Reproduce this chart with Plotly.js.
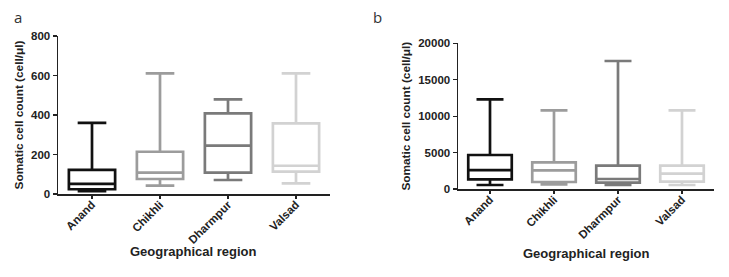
<!DOCTYPE html>
<html><head><meta charset="utf-8">
<script src="https://cdn.plot.ly/plotly-3.0.1.min.js"></script>
<style>html,body{margin:0;padding:0;background:#fff}#chart{width:729px;height:277px}</style>
</head><body><div id="chart"></div>
<script>
const regions = ["Anand", "Chikhli", "Dharmpur", "Valsad"];
const colors = ["#111111", "#9c9c9c", "#7a7a7a", "#d2d2d2"];
// Panel a
const aMin = [15, 42, 71, 54];
const aQ1 = [24, 76, 108, 113];
const aMed = [51, 108, 245, 143];
const aQ3 = [122, 214, 408, 358];
const aMax = [360, 611, 479, 611];
// Panel b
const bMin = [550, 640, 550, 550];
const bQ1 = [1330, 960, 870, 1000];
const bMed = [2600, 2560, 1370, 2100];
const bQ3 = [4670, 3660, 3200, 3200];
const bMax = [12300, 10800, 17570, 10800];
const aTicks = [0, 200, 400, 600, 800];
const bTicks = [0, 5000, 10000, 15000, 20000];

const traces = [];
regions.forEach((r, i) => {
  traces.push({type: 'box', x: [r], q1: [aQ1[i]], median: [aMed[i]], q3: [aQ3[i]],
    lowerfence: [aMin[i]], upperfence: [aMax[i]], xaxis: 'x', yaxis: 'y',
    line: {color: colors[i], width: 2.7}, fillcolor: 'rgba(255,255,255,0)',
    width: 0.68, whiskerwidth: 0.62, showlegend: false, hoverinfo: 'none'});
  traces.push({type: 'box', x: [r], q1: [bQ1[i]], median: [bMed[i]], q3: [bQ3[i]],
    lowerfence: [bMin[i]], upperfence: [bMax[i]], xaxis: 'x2', yaxis: 'y2',
    line: {color: colors[i], width: 2.7}, fillcolor: 'rgba(255,255,255,0)',
    width: 0.68, whiskerwidth: 0.62, showlegend: false, hoverinfo: 'none'});
});

const FAM = 'Liberation Sans, Arial, sans-serif';
const xCommon = {type: 'category', categoryorder: 'array', categoryarray: regions,
  range: [-0.5, 3.5], showline: true, linecolor: '#222', linewidth: 1.5,
  ticks: 'outside', ticklen: 3, tickcolor: '#222', tickwidth: 1.2, tickangle: -45,
  ticklabelstandoff: -5,
  showgrid: false, zeroline: false, tickfont: {family: FAM, size: 11.5, color: '#222'},
  tickvals: regions, ticktext: regions.map(r => '<b>' + r + '</b>')};
const yCommon = {showline: true, linecolor: '#222', linewidth: 1.5, ticks: 'outside',
  ticklen: 4, tickcolor: '#222', tickwidth: 1.2, showgrid: false, zeroline: false,
  tickfont: {family: FAM, size: 11.5, color: '#222'},
  title: {text: '<b>Somatic cell count (cell/μl)</b>', font: {family: FAM, size: 11.8, color: '#222'}, standoff: 5}};

const layout = {
  width: 729, height: 277, margin: {l: 0, r: 0, t: 0, b: 0},
  paper_bgcolor: '#fff', plot_bgcolor: '#fff', boxmode: 'overlay',
  font: {family: FAM},
  xaxis: Object.assign({}, xCommon, {domain: [58/729, 330/729], anchor: 'y'}),
  yaxis: Object.assign({}, yCommon, {domain: [1 - 194/277, 1 - 36/277], anchor: 'x',
    range: [0, 800], tickvals: aTicks, ticktext: aTicks.map(v => '<b>' + v + '</b>')}),
  xaxis2: Object.assign({}, xCommon, {domain: [458/729, 714/729], anchor: 'y2'}),
  yaxis2: Object.assign({}, yCommon, {domain: [1 - 189/277, 1 - 43.3/277], anchor: 'x2',
    range: [0, 20000], tickvals: bTicks, ticktext: bTicks.map(v => '<b>' + v + '</b>')}),
  annotations: [
    {text: 'a', x: 18/729, y: 1 - 17/277, xref: 'paper', yref: 'paper', showarrow: false,
     xanchor: 'center', yanchor: 'middle',
     font: {family: 'Open Sans, sans-serif', size: 15, color: '#333'}},
    {text: 'b', x: 377/729, y: 1 - 17/277, xref: 'paper', yref: 'paper', showarrow: false,
     xanchor: 'center', yanchor: 'middle',
     font: {family: 'Open Sans, sans-serif', size: 15, color: '#333'}},
    {text: '<b>Geographical region</b>', x: 193/729, y: 1 - 251.5/277, xref: 'paper', yref: 'paper',
     showarrow: false, xanchor: 'center', yanchor: 'middle',
     font: {family: FAM, size: 13, color: '#222'}},
    {text: '<b>Geographical region</b>', x: 586/729, y: 1 - 253.5/277, xref: 'paper', yref: 'paper',
     showarrow: false, xanchor: 'center', yanchor: 'middle',
     font: {family: FAM, size: 13, color: '#222'}}
  ]
};
Plotly.newPlot('chart', traces, layout, {staticPlot: true, displayModeBar: false});
</script></body></html>
